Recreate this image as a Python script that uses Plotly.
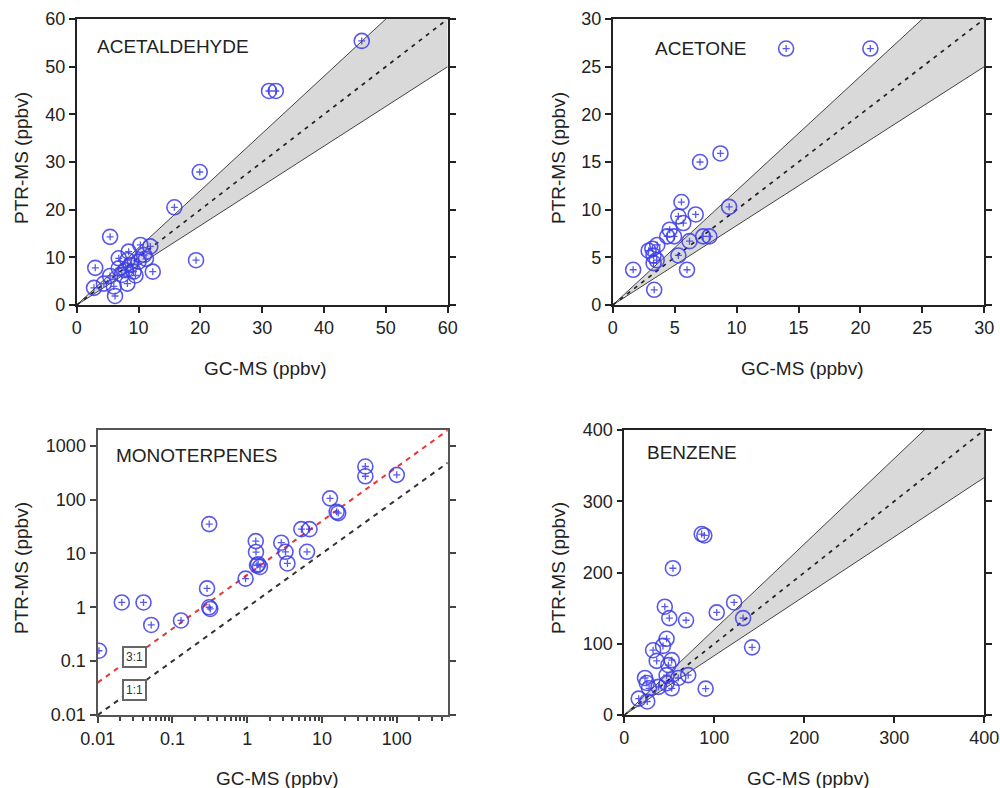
import math
import plotly.graph_objects as go

# ---------------- data ----------------
acetaldehyde_gc = [46.1, 31.1, 32.2, 19.9, 15.8, 19.3, 5.4, 3.0, 2.8, 4.4, 6.0, 6.2, 8.2, 5.4, 7.3,
                   7.9, 6.8, 8.7, 8.2, 6.8, 8.4, 10.3, 11.9, 10.9, 11.2, 12.3, 10.0, 9.2, 9.5]
acetaldehyde_ptr = [55.4, 44.9, 44.9, 27.9, 20.5, 9.4, 14.3, 7.8, 3.6, 4.5, 3.9, 1.9, 4.5, 6.1, 6.3,
                    7.3, 7.7, 8.4, 9.4, 9.8, 11.2, 12.6, 12.3, 10.5, 9.7, 7.0, 9.1, 7.0, 6.2]

acetone_gc = [14.0, 20.8, 8.7, 7.05, 9.4, 5.55, 6.7, 5.3, 5.7, 4.6, 4.95, 7.3, 7.8, 6.2, 3.6,
              2.9, 3.3, 3.55, 3.3, 5.3, 6.0, 1.65, 3.35, 4.4, 3.2]
acetone_ptr = [26.9, 26.9, 15.9, 15.0, 10.3, 10.8, 9.5, 9.3, 8.6, 7.9, 7.2, 7.2, 7.2, 6.7, 6.3,
               5.7, 5.2, 4.7, 4.4, 5.2, 3.7, 3.7, 1.6, 7.2, 5.9]

monoterpenes_gc = [0.0104, 0.021, 0.041, 0.052, 0.13, 0.29, 0.32, 0.31, 0.31, 0.95, 1.3, 1.31, 1.4,
                   1.48, 1.35, 2.85, 3.25, 3.45, 5.3, 6.8, 6.3, 12.8, 15.7, 16.5, 38, 38, 100]
monoterpenes_ptr = [0.156, 1.23, 1.23, 0.47, 0.57, 2.24, 0.93, 1.0, 35, 3.4, 16.9, 10.6, 6.3,
                    5.6, 6.0, 15.8, 10.7, 6.5, 28.2, 28.2, 10.7, 105, 59, 56, 410, 270, 287]

benzene_gc = [88.9, 86, 54, 45, 50, 68.6, 102.7, 122, 132, 142, 90.4, 71, 47, 43, 32, 36, 52.7,
              49, 23, 25, 16, 25.5, 27.5, 38, 52.7, 47, 60, 47]
benzene_ptr = [252, 254, 206, 152, 136, 133, 144, 158, 136, 95, 37, 56, 107, 97, 91, 76, 77,
               70, 52, 45, 23, 19, 37.5, 39.5, 37.5, 44.5, 52, 56]

compounds = ["ACETALDEHYDE", "ACETONE", "MONOTERPENES", "BENZENE"]
x_title = "GC-MS (ppbv)"
y_title = "PTR-MS (ppbv)"

lin_max = [60, 30, None, 400]
lin_ticks = [[0, 10, 20, 30, 40, 50, 60], [0, 5, 10, 15, 20, 25, 30], None,
             [0, 100, 200, 300, 400]]
log_x_ticks = [0.01, 0.1, 1, 10, 100]
log_x_text = ["0.01", "0.1", "1", "10", "100"]
log_y_ticks = [0.01, 0.1, 1, 10, 100, 1000]
log_y_text = ["0.01", "0.1", "1", "10", "100", "1000"]
log_x_range = [0.01, 480]
log_y_range = [0.01, 1950]
BAND = 1.2          # +/-20 % envelope
RED_RATIO = 4.0     # slope of the red dashed reference line
ratio_labels = ["3:1", "1:1"]

# ---------------- styling ----------------
FONT = "Liberation Sans, Arial, sans-serif"
BLUE = "rgba(60,60,235,0.85)"
AX = "#222222"

fig = go.Figure()


def add_points(xs, ys, xa, ya):
    fig.add_trace(go.Scatter(x=xs, y=ys, mode="markers", xaxis=xa, yaxis=ya, showlegend=False,
                             marker=dict(symbol="circle-open", size=15, color=BLUE,
                                         line=dict(width=1.6, color=BLUE))))
    fig.add_trace(go.Scatter(x=xs, y=ys, mode="markers", xaxis=xa, yaxis=ya, showlegend=False,
                             marker=dict(symbol="cross-thin-open", size=5, color=BLUE,
                                         line=dict(width=1.3, color=BLUE))))


def add_band(xmax, xa, ya):
    fig.add_trace(go.Scatter(x=[0, xmax, xmax, 0], y=[0, BAND * xmax, xmax / BAND, 0],
                             fill="toself", fillcolor="#d9d9d9", mode="lines",
                             line=dict(width=0), xaxis=xa, yaxis=ya, showlegend=False))
    for s in (BAND, 1 / BAND):
        fig.add_trace(go.Scatter(x=[0, xmax], y=[0, s * xmax], mode="lines",
                                 line=dict(color="#444444", width=1),
                                 xaxis=xa, yaxis=ya, showlegend=False))
    fig.add_trace(go.Scatter(x=[0, xmax], y=[0, xmax], mode="lines",
                             line=dict(color="#222222", width=1.7, dash="4px,5px"),
                             xaxis=xa, yaxis=ya, showlegend=False))


data = [(acetaldehyde_gc, acetaldehyde_ptr), (acetone_gc, acetone_ptr),
        (monoterpenes_gc, monoterpenes_ptr), (benzene_gc, benzene_ptr)]
axes = [("x", "y"), ("x2", "y2"), ("x3", "y3"), ("x4", "y4")]

for i, ((gx, py), (xa, ya)) in enumerate(zip(data, axes)):
    if lin_max[i] is not None:
        add_band(lin_max[i], xa, ya)
    else:
        fig.add_trace(go.Scatter(x=log_x_range, y=log_x_range, mode="lines",
                                 line=dict(color="#333333", width=2, dash="5px,5px"),
                                 xaxis=xa, yaxis=ya, showlegend=False))
        fig.add_trace(go.Scatter(x=log_x_range, y=[RED_RATIO * v for v in log_x_range],
                                 mode="lines", line=dict(color="#ee3333", width=2, dash="5px,5px"),
                                 xaxis=xa, yaxis=ya, showlegend=False))
    add_points(gx, py, xa, ya)

domains = [
    ([0.0767, 0.4477], [0.6129, 0.9759]),
    ([0.6127, 0.9843], [0.6129, 0.9759]),
    ([0.0977, 0.4477], [0.0926, 0.4543]),
    ([0.6243, 0.9843], [0.0926, 0.4543]),
]

tickfont = dict(family=FONT, size=18, color="#222222")
layout = dict(
    width=1000, height=788, margin=dict(l=0, r=0, t=0, b=0, autoexpand=False),
    paper_bgcolor="white", plot_bgcolor="white", showlegend=False,
)

for i, (xd, yd) in enumerate(domains):
    k = "" if i == 0 else str(i + 1)
    common = dict(showline=True, linecolor=AX, linewidth=1.6, ticks="outside", ticklen=6,
                  tickwidth=1.6, tickcolor=AX, showgrid=False, zeroline=False, tickfont=tickfont,
                  automargin=False)
    if lin_max[i] is not None:
        m = lin_max[i]
        layout["xaxis" + k] = dict(domain=xd, anchor="y" + k, range=[0, m], tickmode="array",
                                   tickvals=lin_ticks[i], mirror=True, **common)
        layout["yaxis" + k] = dict(domain=yd, anchor="x" + k, range=[0, m], tickmode="array",
                                   tickvals=lin_ticks[i], mirror="ticks", layer="below traces",
                                   **common)
    else:
        minor_vals = [k2 * 10 ** e for e in range(-2, 3) for k2 in range(2, 10)
                      if k2 * 10 ** e <= log_x_range[1]]
        c3 = dict(common)
        c3.update(linecolor="#555555", linewidth=2.4, tickcolor="#444444", tickwidth=2)
        layout["xaxis" + k] = dict(domain=xd, anchor="y" + k, type="log",
                                   range=[math.log10(log_x_range[0]), math.log10(log_x_range[1])],
                                   tickmode="array", tickvals=log_x_ticks, ticktext=log_x_text,
                                   mirror=True,
                                   minor=dict(tickmode="array", tickvals=minor_vals,
                                              ticks="outside", ticklen=4, tickwidth=1.5,
                                              tickcolor="#444444", showgrid=False),
                                   **c3)
        layout["yaxis" + k] = dict(domain=yd, anchor="x" + k, type="log",
                                   range=[math.log10(log_y_range[0]), math.log10(log_y_range[1])],
                                   tickmode="array", tickvals=log_y_ticks, ticktext=log_y_text,
                                   mirror="ticks", **c3)

fig.update_layout(**layout)

# labels
label_pos = [(95, 46.7), (653, 48.3), (114, 455.7), (645, 452.7)]
for name, (px, py_) in zip(compounds, label_pos):
    fig.add_annotation(text=name, xref="paper", yref="paper", x=px / 1000, y=1 - py_ / 788,
                       xanchor="left", yanchor="middle", showarrow=False,
                       font=dict(family=FONT, size=19, color="#222222"))

xt_pos = [(265, 368), (802, 368), (277, 778), (808, 778)]
yt_pos = [(21, 158), (558, 158), (21, 568), (558, 568)]
for (xp, yp) in xt_pos:
    fig.add_annotation(text=x_title, xref="paper", yref="paper", x=xp / 1000, y=1 - yp / 788,
                       xanchor="center", yanchor="middle", showarrow=False,
                       font=dict(family=FONT, size=19, color="#222222"))
for (xp, yp) in yt_pos:
    fig.add_annotation(text=y_title, xref="paper", yref="paper", x=xp / 1000, y=1 - yp / 788,
                       xanchor="center", yanchor="middle", showarrow=False, textangle=-90,
                       font=dict(family=FONT, size=19, color="#222222"))

# ratio boxes on the log panel
for lab, (bx, by) in zip(ratio_labels, [(0.0315, 0.117), (0.0315, 0.0297)]):
    fig.add_annotation(text=lab, xref="x3", yref="y3", x=math.log10(bx), y=math.log10(by),
                       showarrow=False, bgcolor="white", bordercolor="#666666", borderwidth=2,
                       borderpad=2, font=dict(family=FONT, size=12, color="#333333"))

fig.write_html("out.html")
